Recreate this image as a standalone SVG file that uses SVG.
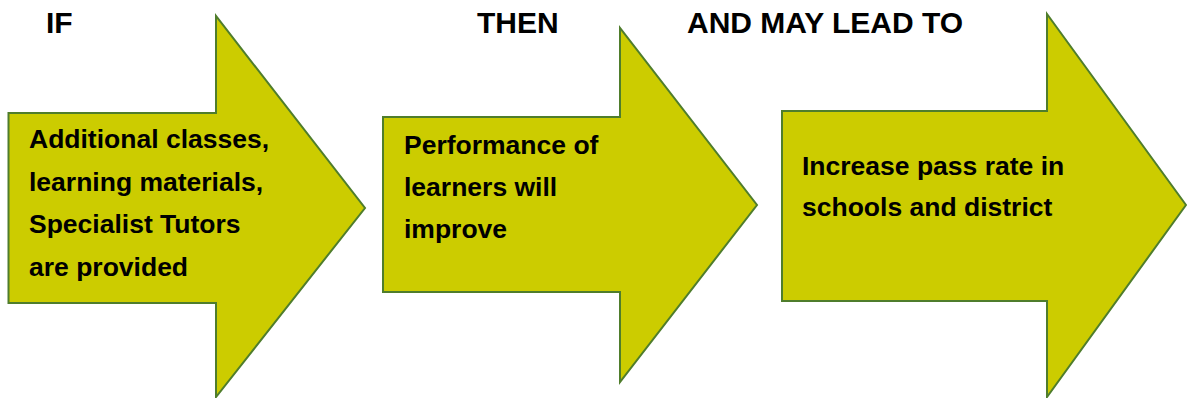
<svg xmlns="http://www.w3.org/2000/svg" width="1187" height="398" viewBox="0 0 1187 398">
<style>
.arrow{fill:#cccc00;stroke:#4f7d2c;stroke-width:2;stroke-linejoin:miter}
.hd{font-family:"Liberation Sans",Arial,sans-serif;font-weight:bold;font-size:30px;fill:#000}
.tx{font-family:"Liberation Sans",Arial,sans-serif;font-weight:bold;font-size:26.5px;fill:#000}
</style>
<rect width="1187" height="398" fill="#fff"/>
<g id="headers">
<text class="hd" x="46" y="33">IF</text>
<text class="hd" x="477" y="33">THEN</text>
<text class="hd" x="687" y="33">AND MAY LEAD TO</text>
</g>
<g id="node-if">
<polygon class="arrow" points="8.5,113 216,113 216,16 365,208 216,397 216,303 8.5,303"/>
<text class="tx" x="29" y="148">Additional classes,</text>
<text class="tx" x="29" y="191">learning materials,</text>
<text class="tx" x="29" y="233">Specialist Tutors</text>
<text class="tx" x="29" y="276">are provided</text>
</g>
<g id="node-then">
<polygon class="arrow" points="383,117 620,117 620,28 757,205 620,382 620,292 383,292"/>
<text class="tx" x="404" y="154">Performance of</text>
<text class="tx" x="404" y="196">learners will</text>
<text class="tx" x="404" y="238">improve</text>
</g>
<g id="node-lead">
<polygon class="arrow" points="782,111 1047,111 1047,14 1186,205 1047,397 1047,301 782,301"/>
<text class="tx" x="802" y="175">Increase pass rate in</text>
<text class="tx" x="802" y="216">schools and district</text>
</g>
<g id="connectors"/>
</svg>
